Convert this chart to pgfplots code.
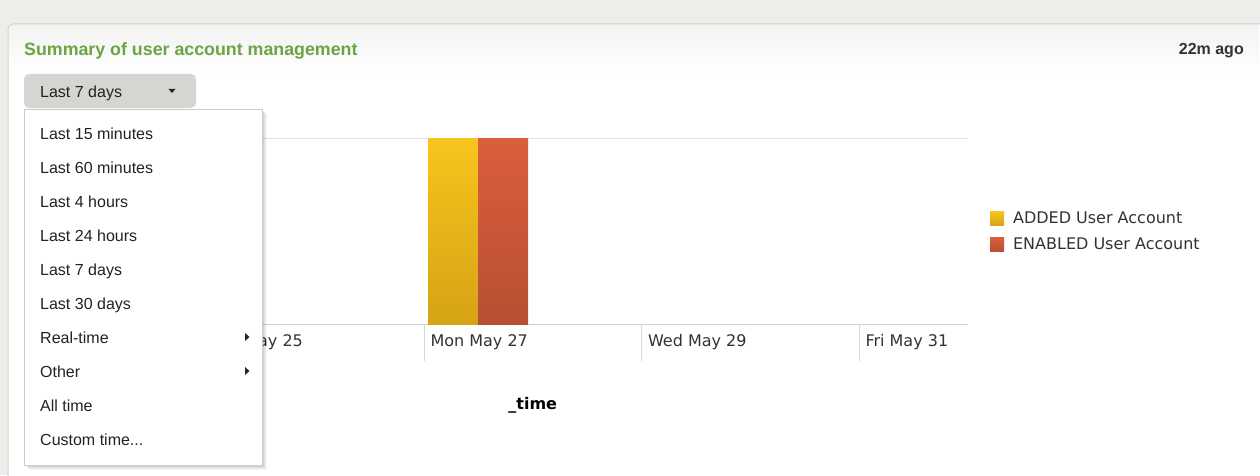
\documentclass[border=0pt]{standalone}
\usepackage{fontspec}
\setmainfont{Liberation Sans}
\newfontfamily\dejavu{DejaVu Sans}
\usepackage{pgfplots}
\pgfplotsset{compat=1.18}
\definecolor{pagegray}{HTML}{EDEDE9}
\definecolor{panelborder}{HTML}{D0D0CC}
\definecolor{ttlgreen}{HTML}{6AA543}
\definecolor{darktxt}{HTML}{333333}
\definecolor{menutxt}{HTML}{222222}
\definecolor{btngray}{HTML}{D5D5D1}
\definecolor{menuborder}{HTML}{CCCCCC}
\definecolor{gridgray}{HTML}{E2E2E2}
\definecolor{axisgray}{HTML}{CFCFCF}
\definecolor{tickgray}{HTML}{D8D8D8}
\definecolor{labelgray}{HTML}{333333}
\definecolor{yelTop}{HTML}{F8C41C}
\definecolor{yelBot}{HTML}{D6A316}
\definecolor{redTop}{HTML}{DA5E3C}
\definecolor{redBot}{HTML}{B84F32}
\tikzset{menuitem/.style={anchor=base west, inner sep=0, text=menutxt, font=\fontsize{16}{19}\selectfont}}
\begin{document}
\begin{tikzpicture}[x=1pt,y=1pt]
\useasboundingbox (0,0) rectangle (1260,475);
\fill[pagegray] (0,0) rectangle (1260,475);
% panel
\fill[white, rounded corners=5pt] (8,-10) rectangle (1275,451);
\shade[top color=black!5, bottom color=white] (9,450) rectangle (1259,400);
\draw[panelborder, line width=1pt, rounded corners=5pt] (8,-10) -- (8,451) -- (1275,451);
% header texts
\node[anchor=base west, inner sep=0, text=ttlgreen, font=\bfseries\fontsize{17.8}{20}\selectfont] at (24,419.2) {Summary of user account management};
\node[anchor=base east, inner sep=0, text=darktxt, font=\bfseries\fontsize{16}{19}\selectfont] at (1244,420) {22m ago};
% chart
\begin{axis}[
  at={(97.75pt,151pt)}, anchor=south west,
  scale only axis, width=870pt, height=186pt,
  xmin=24, xmax=32, ymin=0, ymax=1,
  axis x line*=bottom, axis y line*=left,
  x axis line style={draw=axisgray, line width=1pt, -},
  y axis line style={draw=none},
  xtick={25,27,29,31},
  xticklabels={Sat May 25, Mon May 27, Wed May 29, Fri May 31},
  ytick={0,1}, yticklabels={},
  ymajorgrids, grid style={draw=gridgray, line width=1pt},
  tick align=outside, major tick length=37pt,
  xtick style={draw=tickgray, line width=1pt},
  ytick style={draw=none},
  xticklabel style={anchor=north west, font=\dejavu\fontsize{16}{19}\selectfont, text=labelgray, xshift=3pt},
  xticklabel shift=-30pt,
  xlabel={\_time},
  xlabel style={font=\dejavu\bfseries\fontsize{16}{19}\selectfont, text=black, at={(axis description cs:0.5,0)}, anchor=center, yshift=-81pt},
  legend style={at={(axis description cs:1.022,0.497)}, anchor=west, draw=none, fill=none,
    font=\dejavu\fontsize{16}{19}\selectfont, text=labelgray, row sep=9pt,
    /tikz/every odd column/.append style={column sep=7pt}},
  legend cell align=left,
  legend image code/.code={\path[#1, draw=none] (0pt,-7pt) rectangle (14pt,7pt);},
]
\addplot[ybar, bar width=0.46, bar shift=0pt, draw=none, top color=yelTop, bottom color=yelBot] coordinates {(27.267,1)};
\addlegendentry{ADDED User Account}
\addplot[ybar, bar width=0.46, bar shift=0pt, draw=none, top color=redTop, bottom color=redBot] coordinates {(27.727,1)};
\addlegendentry{ENABLED User Account}
\end{axis}
% dropdown button
\fill[btngray, rounded corners=5pt] (24,367) rectangle (196,401);
\node[menuitem] at (40,377.5) {Last 7 days};
\fill[black!85] (168.5,386) -- (175.5,386) -- (172,382) -- cycle;
% menu shadow
\foreach \d/\o in {5/0.03,4/0.04,3/0.05,2/0.06}{
  \fill[black, opacity=\o] (24+\d,10-\d) rectangle (262+\d,366-\d);
}
\fill[white] (24,10) rectangle (262,366);
\draw[menuborder, line width=1pt] (24,10) rectangle (262,366);
\node[menuitem] at (40,335.5) {Last 15 minutes};
\node[menuitem] at (40,301.5) {Last 60 minutes};
\node[menuitem] at (40,267.5) {Last 4 hours};
\node[menuitem] at (40,233.5) {Last 24 hours};
\node[menuitem] at (40,199.5) {Last 7 days};
\node[menuitem] at (40,165.5) {Last 30 days};
\node[menuitem] at (40,131.5) {Real-time};
\node[menuitem] at (40,97.5) {Other};
\node[menuitem] at (40,63.5) {All time};
\node[menuitem] at (40,29.5) {Custom time...};
\fill[black!85] (245,134) -- (245,142) -- (249.5,138) -- cycle;
\fill[black!85] (245,100) -- (245,108) -- (249.5,104) -- cycle;
\end{tikzpicture}
\end{document}
